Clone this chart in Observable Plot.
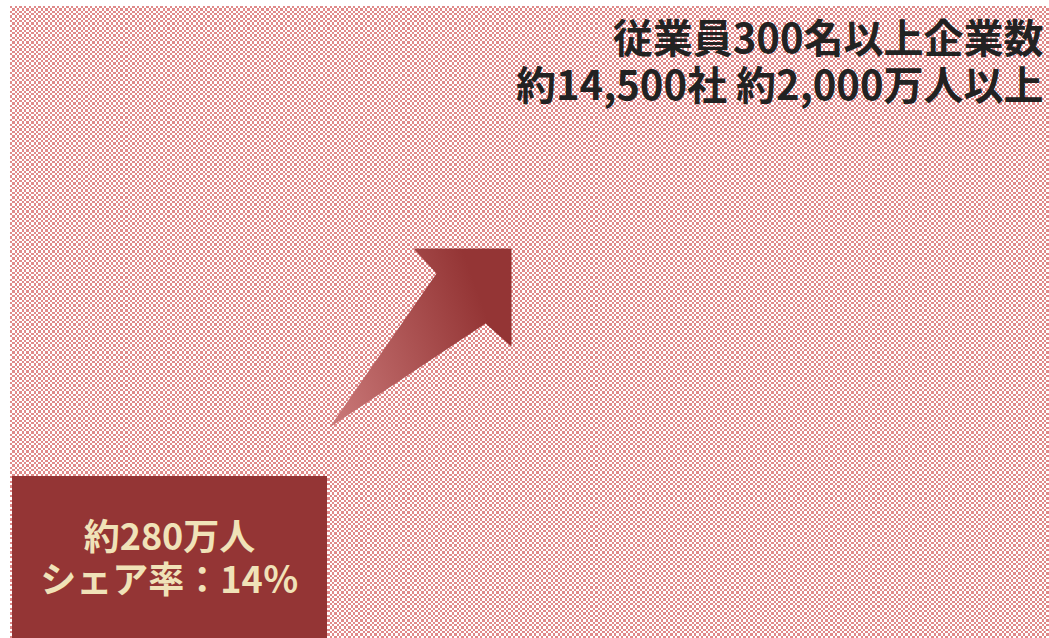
<!DOCTYPE html>
<html><head><meta charset="utf-8">
<script src="https://cdn.jsdelivr.net/npm/d3@7"></script>
<script src="https://cdn.jsdelivr.net/npm/@observablehq/plot@0.6"></script>
<style>html,body{margin:0;padding:0;background:#fff;overflow:hidden}</style>
</head><body><div id="chart"></div>
<script>
// --- data ---
const headlineLines = ["従業員300名以上企業数", "約14,500社 約2,000万人以上"];
const shareLines = ["約280万人", "シェア率：14％"];
const arrowShape = [
  {x: 329, y: 427}, {x: 436, y: 273}, {x: 413, y: 248}, {x: 511, y: 248},
  {x: 511, y: 346}, {x: 485, y: 323}, {x: 329, y: 427}
];

const W = 1049, H = 638;
const headlineRows = headlineLines.map((t, i) => ({t, y: 52 + i * 47}));
const shareRows = shareLines.map((t, i) => ({t, y: 549 + i * 43}));

const chart = Plot.plot({
  width: W, height: H,
  margin: 0,
  style: {fontFamily: "'Noto Sans CJK JP', 'Noto Sans', sans-serif", background: "#fff"},
  x: {domain: [0, W], range: [0, W], axis: null},
  y: {domain: [0, H], range: [0, H], axis: null},
  marks: [
    Plot.rect([{}], {x1: 10, x2: W, y1: 6, y2: H, fill: "url(#chk)"}),
    Plot.line(arrowShape, {x: "x", y: "y", fill: "url(#arrowGrad)", stroke: "none", curve: "linear"}),
    Plot.rect([{}], {x1: 12, x2: 327, y1: 476, y2: H, fill: "#943535"}),
    Plot.text(shareRows, {x: 169, y: "y", text: "t", fill: "#f0e2b8", fontSize: 36, fontWeight: "bold", textAnchor: "middle", lineAnchor: "bottom", style: {letterSpacing: "0.5px"}}),
    Plot.text(headlineRows, {x: 1043, y: "y", text: "t", fill: "#222", fontSize: 40, fontWeight: "bold", textAnchor: "end", lineAnchor: "bottom"})
  ]
});

const svg = d3.select(chart);
const defs = svg.insert("defs", ":first-child");
// checker cell size; the tile holds several periods so the sampled pixels stay crisp
const c = 2.35, reps = 20, tile = 2 * c * reps;
const pat = defs.append("pattern").attr("id", "chk").attr("patternUnits", "userSpaceOnUse")
  .attr("x", 10).attr("y", 6).attr("width", tile).attr("height", tile);
for (let i = 0; i < 2 * reps; i++) {
  for (let j = 0; j < 2 * reps; j++) {
    if ((i + j) % 2 === 0) {
      pat.append("rect").attr("x", i * c).attr("y", j * c).attr("width", c).attr("height", c)
        .attr("fill", "#e08a8a").attr("shape-rendering", "crispEdges");
    }
  }
}
const g = defs.append("linearGradient").attr("id", "arrowGrad").attr("gradientUnits", "userSpaceOnUse")
  .attr("x1", 330).attr("y1", 400).attr("x2", 495).attr("y2", 340);
g.append("stop").attr("offset", "0").attr("stop-color", "#c87676");
g.append("stop").attr("offset", "1").attr("stop-color", "#943535");

document.getElementById("chart").appendChild(chart);
</script>
</body></html>
